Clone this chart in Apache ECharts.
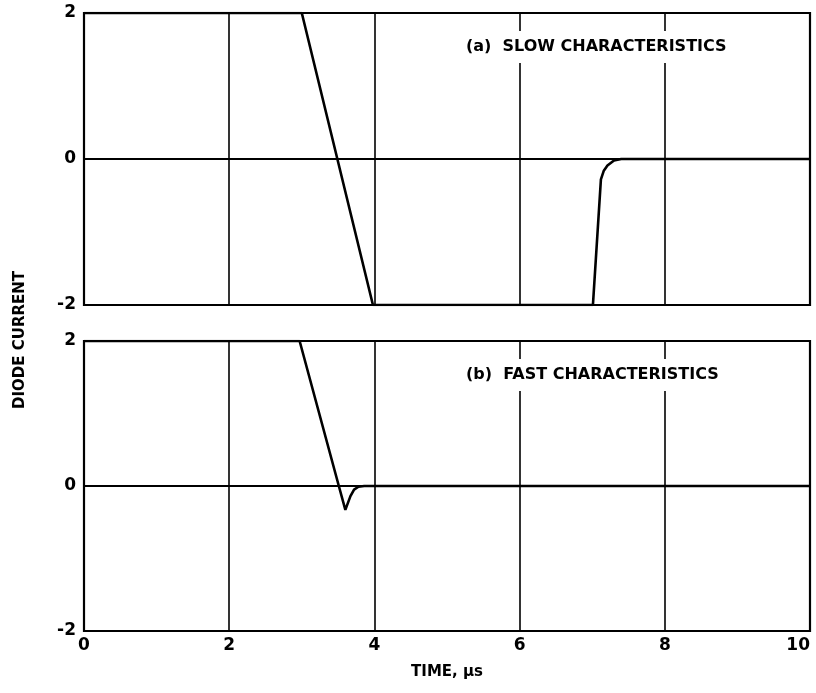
<!DOCTYPE html>
<html>
<head>
<meta charset="utf-8">
<script src="https://cdn.jsdelivr.net/npm/echarts@6/dist/echarts.min.js"></script>
<style>
  html, body { margin: 0; padding: 0; background: #fff; }
  #chart { width: 816px; height: 693px; }
</style>
</head>
<body>
<div id="chart"></div>
<script>
// time axis ticks (microseconds)
const timeTicks = [0, 2, 4, 6, 8, 10];
const currentTicks = [-2, 0, 2];

// (a) slow characteristics
const slowTime    = [0, 3.0, 3.98, 7.01, 7.12, 7.16, 7.21, 7.30, 7.40, 10];
const slowCurrent = [2, 2,   -2,   -2,   -0.28, -0.16, -0.09, -0.02, 0, 0];

// (b) fast characteristics
const fastTime    = [0, 2.97, 3.51, 3.60, 3.67, 3.72, 3.78, 3.86, 10];
const fastCurrent = [2, 2,    0,    -0.33, -0.14, -0.05, -0.01, 0, 0];

const fontFamily = "DejaVu Sans, sans-serif";
const ink = "#000";

const chart = echarts.init(document.getElementById("chart"));

function xAxisFor(gridIndex, showLabels) {
  return {
    type: "value",
    gridIndex: gridIndex,
    min: timeTicks[0],
    max: timeTicks[timeTicks.length - 1],
    interval: 2,
    axisLine: { show: false },
    axisTick: { show: false },
    axisLabel: {
      show: showLabels,
      color: ink,
      fontFamily: fontFamily,
      fontWeight: "bold",
      fontSize: 17,
      margin: 6,
      alignMaxLabel: "right"
    },
    splitLine: { show: true, lineStyle: { color: ink, width: 1.6 } },
    name: showLabels ? "TIME, \u03bcs" : "",
    nameLocation: "middle",
    nameGap: 34,
    nameTextStyle: { color: ink, fontFamily: fontFamily, fontWeight: "bold", fontSize: 15 }
  };
}

function yAxisFor(gridIndex) {
  return {
    type: "value",
    gridIndex: gridIndex,
    min: currentTicks[0],
    max: currentTicks[currentTicks.length - 1],
    interval: 2,
    axisLine: { show: false },
    axisTick: { show: false },
    axisLabel: {
      color: ink,
      fontFamily: fontFamily,
      fontWeight: "bold",
      fontSize: 17,
      margin: 8
    },
    splitLine: { show: true, lineStyle: { color: ink, width: 1.8 } }
  };
}

chart.setOption({
  backgroundColor: "#fff",
  animation: false,
  grid: [
    { left: 84, top: 13, width: 726, height: 292, outerBoundsMode: "none", containLabel: false,
      show: true, borderColor: ink, borderWidth: 2.2, backgroundColor: "transparent" },
    { left: 84, top: 341, width: 726, height: 290, outerBoundsMode: "none", containLabel: false,
      show: true, borderColor: ink, borderWidth: 2.2, backgroundColor: "transparent" }
  ],
  xAxis: [xAxisFor(0, false), xAxisFor(1, true)],
  yAxis: [yAxisFor(0), yAxisFor(1)],
  graphic: [
    {
      type: "text",
      left: 462,
      top: 31,
      z: 100,
      style: {
        text: "(a)  SLOW CHARACTERISTICS",
        fill: ink,
        font: "bold 16px " + fontFamily,
        backgroundColor: "#fff",
        padding: [8, 4]
      }
    },
    {
      type: "text",
      left: 462,
      top: 359,
      z: 100,
      style: {
        text: "(b)  FAST CHARACTERISTICS",
        fill: ink,
        font: "bold 16px " + fontFamily,
        backgroundColor: "#fff",
        padding: [8, 4]
      }
    },
    {
      type: "text",
      x: 20,
      y: 340,
      rotation: Math.PI / 2,
      style: {
        text: "DIODE CURRENT",
        fill: ink,
        font: "bold 15px " + fontFamily,
        align: "center",
        verticalAlign: "middle"
      }
    }
  ],
  series: [
    {
      type: "line",
      xAxisIndex: 0,
      yAxisIndex: 0,
      data: slowTime.map((t, i) => [t, slowCurrent[i]]),
      showSymbol: false,
      lineStyle: { color: ink, width: 2.6 },
      z: 5
    },
    {
      type: "line",
      xAxisIndex: 1,
      yAxisIndex: 1,
      data: fastTime.map((t, i) => [t, fastCurrent[i]]),
      showSymbol: false,
      lineStyle: { color: ink, width: 2.6 },
      z: 5
    }
  ]
});
</script>
</body>
</html>
